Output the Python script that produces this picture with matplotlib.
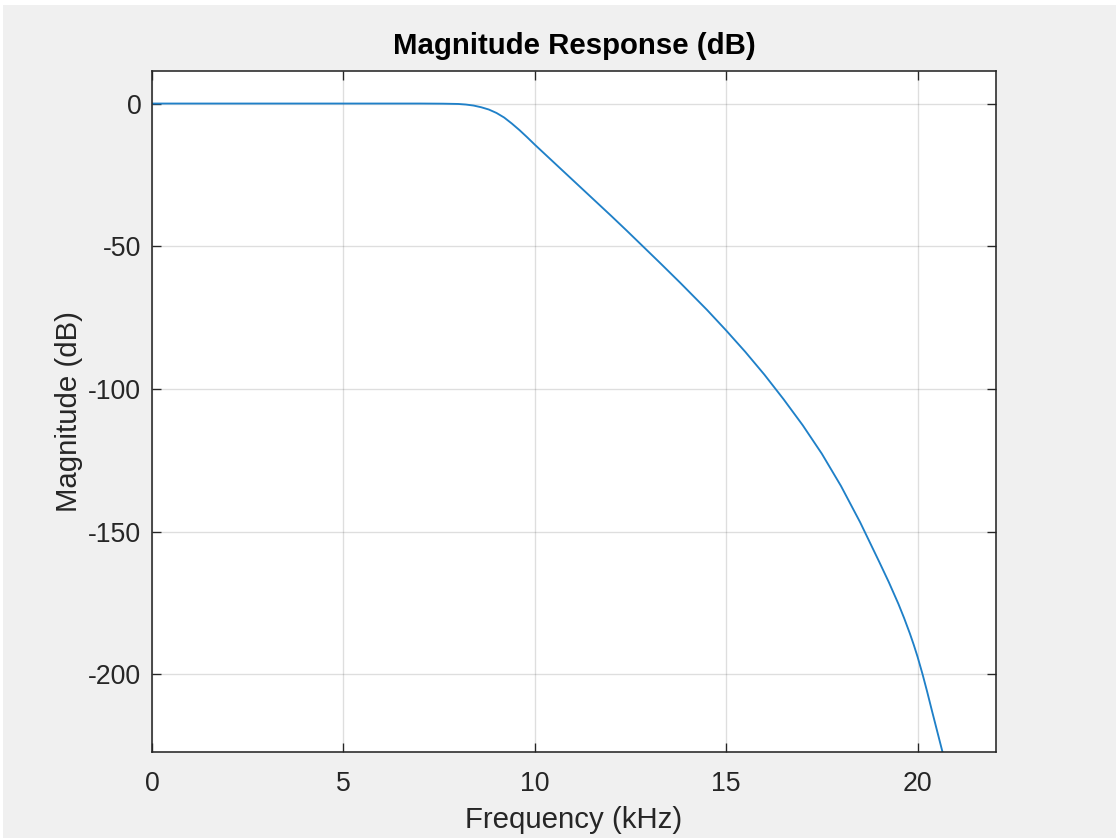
import matplotlib.pyplot as plt
from matplotlib.patches import Rectangle

# values (frequency in kHz, magnitude in dB)
freq_khz = [0, 2, 4, 6, 7, 7.6, 8.0, 8.2, 8.4, 8.6, 8.8, 9.0, 9.2, 9.4, 9.6, 9.8,
            10.0, 10.4, 10.8, 11.2, 11.6, 12.0, 12.4, 12.8, 13.3, 13.8, 14.5,
            15.0, 15.5, 16.0, 16.5, 17.0, 17.5, 18.0, 18.5, 19.0, 19.25, 19.5,
            19.65, 19.8, 19.9, 20.0, 20.13, 20.25, 20.37, 20.66, 20.72]
mag_db = [0, 0, 0, 0, 0, -0.05, -0.15, -0.35, -0.7, -1.3, -2.1, -3.3, -4.9, -7.0,
          -9.3, -11.8, -14.4, -19.4, -24.4, -29.4, -34.4, -39.4, -44.5, -49.7, -56.2,
          -62.8, -72.3, -79.5, -87.0, -95.0, -103.6, -112.7, -122.7, -134.0, -146.7,
          -160.6, -167.7, -175.3, -180.3, -185.7, -189.6, -193.8, -199.9, -206.0,
          -212.4, -227.6, -230.8]
xticks = [0, 5, 10, 15, 20]
yticks = [-200, -150, -100, -50, 0]

plt.rcParams['font.family'] = ['Liberation Sans', 'DejaVu Sans']
plt.rcParams['axes.unicode_minus'] = False
axcol = '#262626'

fig = plt.figure(figsize=(1116 / 192, 838 / 192), dpi=192)
fig.patch.set_facecolor('#f0f0f0')
# white screenshot border at top and left
fig.patches.append(Rectangle((0, 1 - 5 / 838), 1, 5 / 838, transform=fig.transFigure,
                             facecolor='white', edgecolor='none', zorder=-1))
fig.patches.append(Rectangle((0, 0), 3 / 1116, 1, transform=fig.transFigure,
                             facecolor='white', edgecolor='none', zorder=-1))

ax = fig.add_axes([152 / 1116, 1 - 752 / 838, (996 - 152) / 1116, (752 - 71) / 838])
ax.plot(freq_khz, mag_db, color='#1f80c8', lw=0.7)

ax.set_xlim(0, 22.05)
ax.set_ylim(-227.2, 11.4)
ax.set_xticks(xticks)
ax.set_yticks(yticks)
ax.grid(True, color=axcol, alpha=0.15, lw=0.5)
ax.tick_params(direction='in', length=3.5, width=0.5, colors=axcol,
               labelsize=10, top=True, right=True)
ax.tick_params(axis='y', pad=4)
ax.tick_params(axis='x', pad=7)
for s in ax.spines.values():
    s.set_color(axcol)
    s.set_linewidth(0.6)

ax.set_xlabel('Frequency (kHz)', fontsize=11, color=axcol, labelpad=3.5)
ax.set_ylabel('Magnitude (dB)', fontsize=11, color=axcol, labelpad=2)
ax.set_title('Magnitude Response (dB)', fontsize=11, fontweight='bold', color='black', pad=6.5)

fig.savefig('out.png', dpi=192, facecolor=fig.get_facecolor())
